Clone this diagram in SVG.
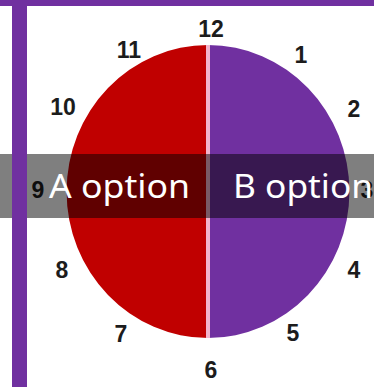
<svg xmlns="http://www.w3.org/2000/svg" width="374" height="387" viewBox="0 0 374 387">
  <style>
    .num { font-family: "Liberation Sans", Arial, sans-serif; font-weight: bold; font-size: 23px; fill: #1c1c1c; text-anchor: middle; }
    .opt { font-family: "Noto Sans", "Open Sans", sans-serif; font-size: 33px; fill: #ffffff; }
  </style>
  <rect x="0" y="0" width="374" height="387" fill="#ffffff"/>
  <g id="clock">
    <path d="M208 45 A141.5 146.5 0 0 0 208 338 Z" fill="#c00000"/>
    <path d="M208 45 A141.5 146.5 0 0 1 208 338 Z" fill="#7030a0"/>
    <line x1="208" y1="45" x2="208" y2="338" stroke="#f2b4cc" stroke-width="4"/>
  </g>
  <g id="numbers">
    <text class="num" x="211" y="37">12</text>
    <text class="num" x="301" y="63">1</text>
    <text class="num" x="354" y="117">2</text>
    <text class="num" x="367" y="198">3</text>
    <text class="num" x="354" y="278">4</text>
    <text class="num" x="293" y="341">5</text>
    <text class="num" x="211" y="378">6</text>
    <text class="num" x="121" y="342">7</text>
    <text class="num" x="62" y="278">8</text>
    <text class="num" x="38" y="198">9</text>
    <text class="num" x="63" y="115">10</text>
    <text class="num" x="129" y="58">11</text>
  </g>
  <g id="band">
    <rect x="0" y="154" width="374" height="64" fill="#000000" fill-opacity="0.5"/>
    <text class="opt" x="49" y="198" textLength="141" lengthAdjust="spacingAndGlyphs">A option</text>
    <text class="opt" x="233" y="198" textLength="140" lengthAdjust="spacingAndGlyphs">B option</text>
  </g>
  <g id="frame">
    <rect x="0" y="0" width="374" height="6" fill="#7030a0"/>
    <rect x="12" y="0" width="15" height="387" fill="#7030a0"/>
  </g>
</svg>
